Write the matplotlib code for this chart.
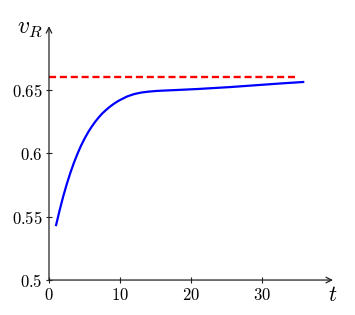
import numpy as np
import matplotlib
matplotlib.use('Agg')
import matplotlib.pyplot as plt

plt.rcParams['mathtext.fontset'] = 'cm'

# curve
t = [1.0, 1.5, 2.0, 2.5, 3.0, 3.5, 4.0, 4.5, 5.0, 5.5, 6.0, 6.5, 7.0, 7.5, 8.0,
     8.5, 9.0, 9.5, 10.0, 11.0, 12.0, 13.0, 14.0, 15.0, 16.0, 18.0, 21.0, 25.5,
     30.0, 33.0, 35.8]
v = [0.5433, 0.5550, 0.5658, 0.5755, 0.5843, 0.5922, 0.5993, 0.6057, 0.6113,
     0.6163, 0.6207, 0.6246, 0.6281, 0.6312, 0.6338, 0.6362, 0.6383, 0.6402,
     0.6418, 0.6446, 0.6465, 0.6477, 0.6484, 0.6489, 0.6492, 0.6497, 0.6505,
     0.6520, 0.6538, 0.6550, 0.6560]
t_ref = [0, 35]
v_ref = [0.66, 0.66]

xticks = [0, 10, 20, 30]
yticks = [0.5, 0.55, 0.6, 0.65]
ytick_labels = ['0.5', '0.55', '0.6', '0.65']

fig = plt.figure(figsize=(3.55, 3.15), dpi=100)
ax = fig.add_axes([0.138, 0.111, 0.8, 0.806])

ax.plot(t, v, color='blue', lw=1.6)
ax.plot(t_ref, v_ref, color='red', lw=1.7, ls=(0, (3, 1.6)))

ax.set_xlim(0, 40)
ax.set_ylim(0.5, 0.7)

for s in ['top', 'right', 'left', 'bottom']:
    ax.spines[s].set_visible(False)

arrow = dict(arrowstyle='->', lw=0.9, color='#222222', shrinkA=0, shrinkB=0)
ax.annotate('', xy=(1, 0), xytext=(0, 0), xycoords='axes fraction', arrowprops=arrow)
ax.annotate('', xy=(0, 1), xytext=(0, 0), xycoords='axes fraction', arrowprops=arrow)

ax.set_xticks(xticks)
ax.set_xticklabels(['$%d$' % x for x in xticks], fontsize=12)
ax.set_yticks(yticks)
ax.set_yticklabels(['$%s$' % s for s in ytick_labels], fontsize=12)
ax.tick_params(direction='inout', length=5, width=0.8, color='#222222', pad=2)

ax.text(-0.02, 0.995, '$v_R$', transform=ax.transAxes, fontsize=17, ha='right', va='center')
ax.text(1.0, -0.06, '$t$', transform=ax.transAxes, fontsize=16, ha='center', va='center')

plt.savefig('out.png', dpi=100)
